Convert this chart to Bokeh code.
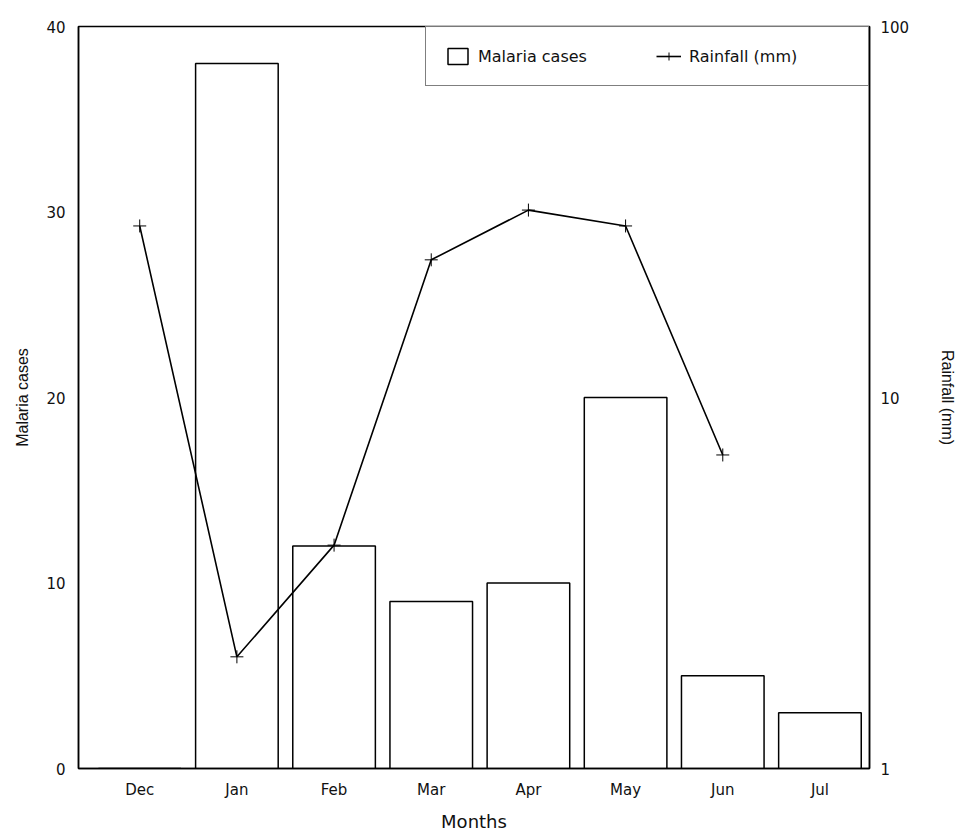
from bokeh.plotting import figure
from bokeh.models import Range1d, LinearAxis, LogScale, FixedTicker, Legend, LegendItem
from bokeh.embed import file_html
from bokeh.resources import INLINE

months = ["Dec", "Jan", "Feb", "Mar", "Apr", "May", "Jun", "Jul"]
malaria_cases = [0, 38, 12, 9, 10, 20, 5, 3]
rain_months = ["Dec", "Jan", "Feb", "Mar", "Apr", "May", "Jun"]
rainfall_mm = [29, 2, 4, 23.5, 32, 29, 7]
left_ticks = [0, 10, 20, 30, 40]
right_ticks = [1, 10, 100]

idx = list(range(len(months)))
rain_idx = [months.index(m) for m in rain_months]

p = figure(width=960, height=834, x_range=Range1d(-0.63, 7.51), y_range=Range1d(0, 40),
           output_backend="svg", toolbar_location=None,
           min_border_left=78, min_border_right=91, min_border_top=26, min_border_bottom=66)
p.extra_y_ranges = {"rain": Range1d(1, 100)}
p.extra_y_scales = {"rain": LogScale()}
p.grid.visible = False
p.outline_line_color = "black"
p.outline_line_width = 1.5

bars = p.vbar(x=idx, top=malaria_cases, width=0.85, fill_color="white",
              line_color="black", line_width=1.5)
ln = p.line(x=rain_idx, y=rainfall_mm, y_range_name="rain", line_color="black", line_width=1.6)
pts = p.scatter(x=rain_idx, y=rainfall_mm, y_range_name="rain", marker="cross", size=13,
                line_color="black", line_width=1)

tick_font = "DejaVu Sans"

xa = p.xaxis[0]
xa.ticker = FixedTicker(ticks=idx)
xa.major_label_overrides = {i: m for i, m in zip(idx, months)}
xa.axis_label = "Months"
xa.axis_label_text_font = tick_font
xa.axis_label_text_font_style = "normal"
xa.axis_label_text_font_size = "18px"
xa.axis_label_standoff = 9
xa.major_label_standoff = 12

ya = p.yaxis[0]
ya.ticker = FixedTicker(ticks=left_ticks)
ya.axis_label = "Malaria cases"
ya.axis_label_standoff = 12
ya.major_label_standoff = 13

ra = LinearAxis(y_range_name="rain", ticker=FixedTicker(ticks=right_ticks),
                axis_label="Rainfall (mm)")
ra.axis_label_standoff = 27
ra.major_label_standoff = 11
p.add_layout(ra, "right")

for ax in [ya, ra]:
    ax.axis_label_text_font = "Liberation Sans"
    ax.axis_label_text_font_style = "normal"
    ax.axis_label_text_font_size = "16px"

for ax in [xa, ya, ra]:
    ax.major_tick_line_color = None
    ax.minor_tick_line_color = None
    ax.major_tick_out = 0
    ax.major_tick_in = 0
    ax.minor_tick_out = 0
    ax.minor_tick_in = 0
    ax.axis_line_color = "black"
    ax.axis_line_width = 1.5
    ax.major_label_text_font = tick_font
    ax.major_label_text_font_size = "15px"
    ax.major_label_text_color = "#111111"
    ax.axis_label_text_color = "#111111"

legend = Legend(items=[LegendItem(label="Malaria cases", renderers=[bars]),
                       LegendItem(label="Rainfall (mm)", renderers=[ln, pts])],
                orientation="horizontal", location="top_right",
                border_line_color="black", border_line_width=1.2,
                padding=19, spacing=18, label_width=160, glyph_width=25,
                glyph_height=20, label_height=20, label_standoff=8, margin=0,
                label_text_font=tick_font, label_text_font_size="16px",
                label_text_color="#111111")
p.add_layout(legend)

open("out.html", "w").write(file_html(p, INLINE))
